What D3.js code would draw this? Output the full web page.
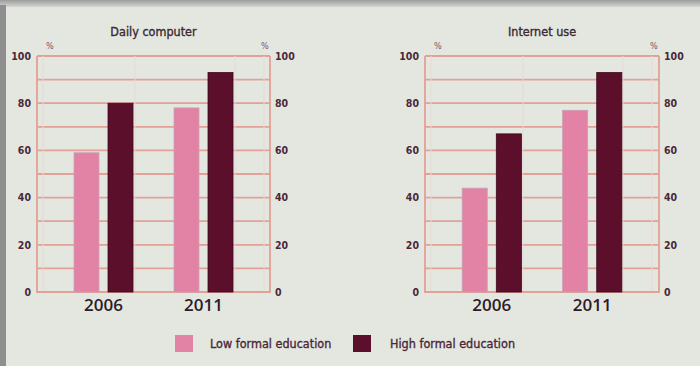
<!DOCTYPE html>
<html>
<head>
<meta charset="utf-8">
<script src="https://cdn.jsdelivr.net/npm/d3@7"></script>
<style>
  body { margin: 0; background: #e4e7e0; }
  svg { display: block; }
</style>
</head>
<body>
<svg id="chart" width="700" height="366"></svg>
<script>
const years = ["2006", "2011"]
const series = ["Low formal education", "High formal education"]
const panelTitles = ["Daily computer", "Internet use"]
// values per panel: [low, high] per year
const dailyLow = [59, 78]
const dailyHigh = [80, 93]
const internetLow = [44, 77]
const internetHigh = [67, 93]
const yTicks = [0, 20, 40, 60, 80, 100]
const gridTicks = [10, 20, 30, 40, 50, 60, 70, 80, 90, 100]

const colors = ["#e283a5", "#5b0f2b"]
const narrow = "'DejaVu Sans Condensed', 'Liberation Sans Narrow', sans-serif"
const svg = d3.select("#chart")

// frame like the scanned page
svg.append("rect").attr("width", 700).attr("height", 366).attr("fill", "#e4e7e0")
const grad = svg.append("defs").append("linearGradient").attr("id", "topg").attr("x1", 0).attr("y1", 0).attr("x2", 0).attr("y2", 1)
grad.append("stop").attr("offset", 0).attr("stop-color", "#9c9c9c")
grad.append("stop").attr("offset", 1).attr("stop-color", "#d4d6d2")
svg.append("rect").attr("width", 700).attr("height", 7).attr("fill", "url(#topg)")
svg.append("rect").attr("x", 0).attr("y", 5).attr("width", 6).attr("height", 361).attr("fill", "#8e8e8e")

const y = d3.scaleLinear().domain([0, 100]).range([292, 56])

function panel(left, right, title, low, high) {
    const g = svg.append("g")
    const x0 = d3.scaleBand().domain(years).range([left, right]).paddingInner(0.41).paddingOuter(0.37)
    const x1 = d3.scaleBand().domain(series).range([0, x0.bandwidth()]).paddingInner(0.265)

    // grid lines
    g.selectAll(".grid")
        .data(gridTicks)
        .join("line")
        .attr("x1", left).attr("x2", right)
        .attr("y1", d => y(d)).attr("y2", d => y(d))
        .attr("stroke", "#e2a096").attr("stroke-width", 1.8)

    // faint vertical texture lines
    g.selectAll(".vgrid")
        .data([6, 98, 198, 227])
        .join("line")
        .attr("x1", d => left + d).attr("x2", d => left + d)
        .attr("y1", y(100)).attr("y2", y(0))
        .attr("stroke", "#ead7d2").attr("stroke-width", 1)

    // box edges
    g.append("path")
        .attr("d", `M${left},${y(100)}V${y(0)}H${right}V${y(100)}`)
        .attr("fill", "none").attr("stroke", "#e2a096").attr("stroke-width", 1.8)

    const data = years.map((yr, i) => ({ year: yr, values: [low[i], high[i]] }))
    g.selectAll(".grp")
        .data(data)
        .join("g")
        .attr("transform", d => `translate(${x0(d.year)},0)`)
        .selectAll("rect")
        .data(d => d.values.map((v, j) => ({ s: series[j], v: v, j: j })))
        .join("rect")
        .attr("x", d => x1(d.s))
        .attr("width", x1.bandwidth())
        .attr("y", d => y(d.v))
        .attr("height", d => y(0) - y(d.v))
        .attr("fill", d => colors[d.j])
        .attr("stroke", d => d.j === 0 ? "#c9a0b4" : "#3d0a1c")
        .attr("stroke-width", 0.8)

    // axes labels
    const axL = d3.axisLeft(y).tickValues(yTicks).tickSize(0).tickPadding(5)
    const axR = d3.axisRight(y).tickValues(yTicks).tickSize(0).tickPadding(4)
    ;[g.append("g").attr("transform", `translate(${left - 1},0)`).call(axL),
      g.append("g").attr("transform", `translate(${right + 1},0)`).call(axR)].forEach(a => {
        a.select(".domain").remove()
        a.selectAll("text")
            .attr("font-family", narrow)
            .attr("font-size", 10.5)
            .attr("font-weight", "bold")
            .attr("fill", "#4a2838")
    })

    const pct = g.append("g")
        .attr("font-family", narrow)
        .attr("font-size", 9).attr("fill", "#7a5060")
    pct.append("text").attr("x", left + 9).attr("y", 49).text("%")
    pct.append("text").attr("x", right - 9).attr("y", 49).text("%")

    g.append("text")
        .attr("x", (left + right) / 2).attr("y", 36)
        .attr("text-anchor", "middle")
        .attr("font-family", narrow)
        .attr("font-size", 12.5).attr("fill", "#3a2a32")
        .attr("stroke", "#3a2a32").attr("stroke-width", 0.35)
        .text(title)

    g.selectAll(".yr")
        .data(years)
        .join("text")
        .attr("x", d => x0(d) + x0.bandwidth() / 2)
        .attr("y", 311)
        .attr("text-anchor", "middle")
        .attr("font-family", "'Open Sans', sans-serif")
        .attr("font-size", 17)
        .attr("font-weight", 600)
        .attr("fill", "#2e1a26")
        .text(d => d)
}

panel(37, 270, panelTitles[0], dailyLow, dailyHigh)
panel(425, 659, panelTitles[1], internetLow, internetHigh)

// legend
const legend = svg.append("g")
const legX = [175, 353]
const legTextX = [210, 390]
series.forEach((s, i) => {
    legend.append("rect")
        .attr("x", legX[i]).attr("y", 335).attr("width", 18).attr("height", 17)
        .attr("fill", colors[i])
    legend.append("text")
        .attr("x", legTextX[i]).attr("y", 348)
        .attr("font-family", narrow)
        .attr("font-size", 12.5).attr("fill", "#4a2838")
        .attr("stroke", "#4a2838").attr("stroke-width", 0.35)
        .text(s)
})
</script>
</body>
</html>
